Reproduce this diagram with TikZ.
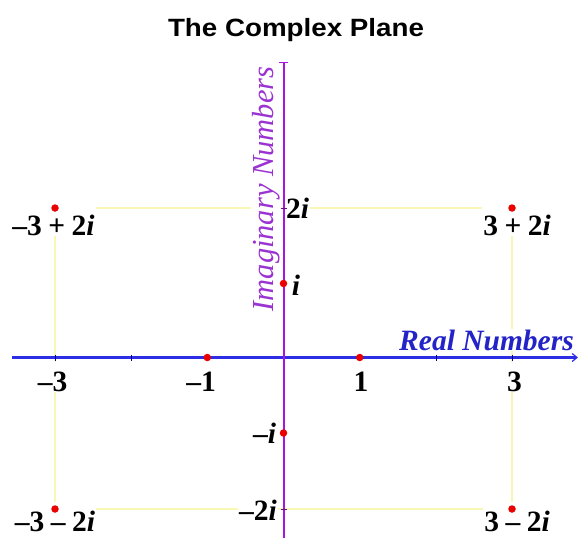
\documentclass[tikz,border=0pt]{standalone}
\usepackage{fontspec}
\setmainfont{Liberation Serif}
\newfontfamily\titlefont{Liberation Sans}
\usetikzlibrary{arrows.meta}
\definecolor{realblue}{RGB}{45,45,230}
\definecolor{reallabel}{RGB}{35,35,200}
\definecolor{imagpurple}{RGB}{170,20,225}
\definecolor{imaglabel}{RGB}{155,50,210}
\definecolor{gridyellow}{RGB}{248,248,180}
\definecolor{dotred}{RGB}{235,0,0}
\newcommand{\opsp}{\hspace{0.22em}}
\begin{document}
\begin{tikzpicture}[x=1pt,y=-1pt,
  numlbl/.style={font=\fontsize{29.5}{32}\selectfont\bfseries, inner sep=1pt,
    fill=white, anchor=base, text height=28pt, text depth=0pt},
  axislbl/.style={inner sep=1pt, anchor=base},
  gridline/.style={gridyellow, line width=1.6pt},
  reddot/.style={circle, fill=dotred, inner sep=0pt, minimum size=7.5pt},
  tickmark/.style={line width=0.8pt}]
\useasboundingbox (0,0) rectangle (578,538);
% coordinates of the points
\coordinate (O) at (283.5,357.5);
\coordinate (pA) at (55,208);    % -3+2i
\coordinate (pB) at (512,208);   % 3+2i
\coordinate (pC) at (512,509);   % 3-2i
\coordinate (pD) at (55,509);    % -3-2i
\coordinate (pI) at (283.5,283.5);
\coordinate (pmI) at (283.5,433);
\coordinate (pR) at (359.7,357.5);
\coordinate (pmR) at (207.3,357.5);
\coordinate (xL) at (12,357.5);
\coordinate (xR) at (578,357.5);
\coordinate (yB) at (283.5,538);
\coordinate (yT) at (283.5,62);
% yellow rectangle
\draw[gridline] (pA) -- (pB) -- (pC) -- (pD) -- cycle;
% title
\node[inner sep=0pt, anchor=base, font=\titlefont\bfseries\fontsize{25}{28}\selectfont] (title) at (296,36) {\scalebox{1.11}[1]{The Complex Plane}};
% corner labels
\node[numlbl] (lA) at (53.5,235) {–3\opsp+\opsp2\textit{i}};
\node[numlbl] (lB) at (517,235) {3\opsp+\opsp2\textit{i}};
\node[numlbl] (lC) at (517,531) {3\opsp–\opsp2\textit{i}};
\node[numlbl] (lD) at (55,531) {–3\opsp–\opsp2\textit{i}};
% imaginary labels
\node[numlbl] (l2i) at (297.5,218) {2\textit{i}};
\node[numlbl] (li) at (296,295) {\textit{i}};
\node[numlbl] (lmi) at (264.5,443) {–\textit{i}};
\node[numlbl] (lm2i) at (258,520) {–2\textit{i}};
% real labels
\node[numlbl] (lm3) at (52.5,391) {–3};
\node[numlbl] (lm1) at (201,391) {–1};
\node[numlbl] (l1) at (361,391) {1};
\node[numlbl] (l3) at (514.5,391) {3};
% axis names
\node[axislbl, fill=white, text=reallabel, font=\fontsize{29.5}{32}\selectfont\bfseries\itshape] (rname) at (486.5,350) {Real Numbers};
\node[axislbl, fill=white, rotate=90, text=imaglabel, font=\fontsize{30.5}{32}\selectfont\itshape] (iname) at (273,189) {Imaginary Numbers};
% axes
\draw[realblue, line width=3pt, -{Straight Barb[length=5pt,width=8pt,line width=1.2pt]}] (xL) -- (xR);
\draw[imagpurple, line width=2pt, -{Bar[width=9pt,line width=1pt]}] (yB) -- (yT);
% ticks
\foreach \tx in {55,131.1,207.3,359.7,435.9,512}
  \draw[tickmark, blue!60!black] (\tx,354.5) -- (\tx,360.5);
\foreach \ty in {208,283.5,433,509}
  \draw[tickmark, imagpurple!60!black] (280.5,\ty) -- (286.5,\ty);
% red dots
\node[reddot] (dA) at (pA) {};
\node[reddot] (dB) at (pB) {};
\node[reddot] (dC) at (pC) {};
\node[reddot] (dD) at (pD) {};
\node[reddot] (dI) at (pI) {};
\node[reddot] (dmI) at (pmI) {};
\node[reddot] (dR) at (pR) {};
\node[reddot] (dmR) at (pmR) {};
\end{tikzpicture}
\end{document}
